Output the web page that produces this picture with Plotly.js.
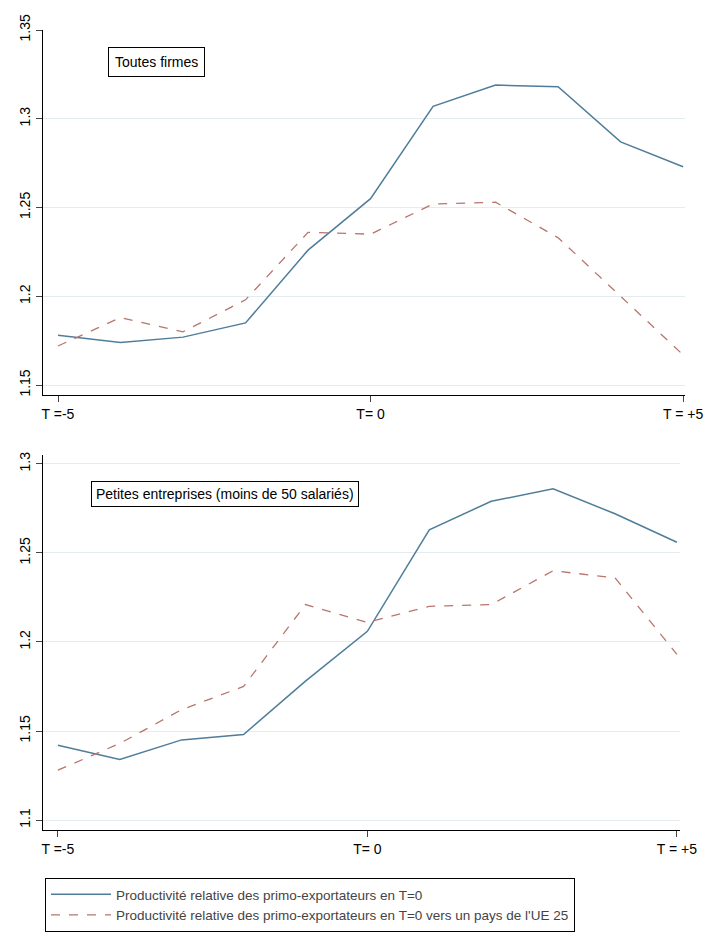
<!DOCTYPE html>
<html><head><script src="https://cdn.plot.ly/plotly-3.0.1.min.js"></script></head>
<body style="margin:0"><div id="c" style="width:728px;height:944px"></div>
<script>
const years=[-5,-4,-3,-2,-1,0,1,2,3,4,5];
const topSolid=[1.178,1.174,1.177,1.185,1.226,1.255,1.307,1.319,1.318,1.287,1.273];
const topDash=[1.172,1.188,1.180,1.198,1.236,1.235,1.252,1.253,1.233,1.200,1.167];
const botSolid=[1.142,1.134,1.145,1.148,1.178,1.206,1.263,1.279,1.286,1.272,1.256];
const botDash=[1.128,1.143,1.162,1.175,1.221,1.211,1.220,1.221,1.240,1.236,1.193];
const xTicks=[-5,0,5], xLabels=['T =-5','T= 0','T = +5'];
const names=['Productivité relative des primo-exportateurs en T=0','Productivité relative des primo-exportateurs en T=0 vers un pays de l\'UE 25'];
const solid={color:'#4f7d99',width:1.5}, dash={color:'#b8756d',width:1.3,dash:'dash'};
const H=944,W=728;
const data=[
{x:years,y:topSolid,mode:'lines',line:solid,name:names[0],xaxis:'x',yaxis:'y'},
{x:years,y:topDash,mode:'lines',line:dash,name:names[1],xaxis:'x',yaxis:'y'},
{x:years,y:botSolid,mode:'lines',line:solid,showlegend:false,xaxis:'x2',yaxis:'y2'},
{x:years,y:botDash,mode:'lines',line:dash,showlegend:false,xaxis:'x2',yaxis:'y2'}];
const f={family:'Liberation Sans, Arial',size:14,color:'#000'};
const xa=(dom,anchor,r)=>({domain:dom,anchor:anchor,range:r,tickvals:xTicks,ticktext:xLabels,ticks:'outside',ticklen:6,showline:true,linecolor:'#000',showgrid:false,zeroline:false,tickfont:f});
const ya=(dom,anchor,r,tv)=>({domain:dom,anchor:anchor,range:r,tickvals:tv,tickformat:'',ticks:'outside',ticklen:6,tickangle:-90,showline:true,linecolor:'#000',gridcolor:'#e4ecf0',zeroline:false,tickfont:f});
const layout={width:W,height:H,margin:{l:0,r:0,t:0,b:0},paper_bgcolor:'#fff',plot_bgcolor:'#fff',showlegend:true,
xaxis:xa([43/W,685/W],'y',[-5.24,5.03]),
yaxis:ya([1-395/H,1-30/H],'x',[1.1444,1.35],[1.15,1.2,1.25,1.3,1.35]),
xaxis2:xa([43/W,680/W],'y2',[-5.24,5.05]),
yaxis2:ya([1-830/H,1-455/H],'x2',[1.0944,1.305],[1.1,1.15,1.2,1.25,1.3]),
legend:{x:45/W,y:1-878/H,xanchor:'left',yanchor:'top',bordercolor:'#000',borderwidth:1,font:{family:'Liberation Sans, Arial',size:13.5},tracegroupgap:0,itemwidth:60},
annotations:[
{xref:'paper',yref:'paper',x:108/W,y:1-62/H,xanchor:'left',yanchor:'middle',text:'Toutes firmes',showarrow:false,font:f,bordercolor:'#000',borderwidth:1,borderpad:6,bgcolor:'#fff'},
{xref:'paper',yref:'paper',x:91/W,y:1-494/H,xanchor:'left',yanchor:'middle',text:'Petites entreprises (moins de 50 salariés)',showarrow:false,font:f,bordercolor:'#000',borderwidth:1,borderpad:4,bgcolor:'#fff'}]};
Plotly.newPlot('c',data,layout,{displayModeBar:false});
</script></body></html>
